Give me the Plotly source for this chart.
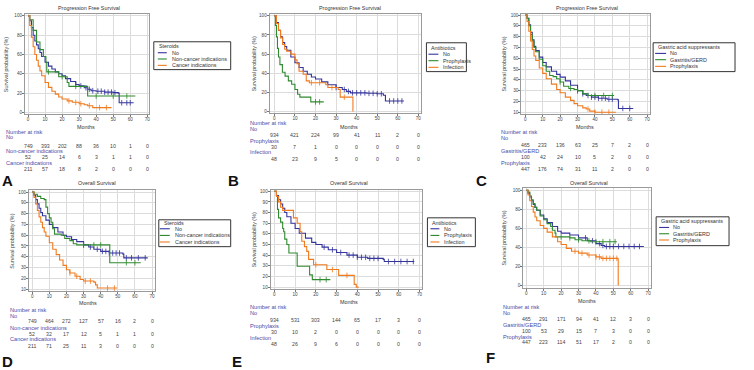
import numpy as np
import plotly.graph_objects as go

W, H = 754, 370

# ------------------------------------------------------------------ data
months_ticks = [0, 10, 20, 30, 40, 50, 60, 70]

# A: PFS by steroids
A_no_t = [0,1,2,3,4,5,6,7,8,10,12,14,16,18,20,22,25,28,30,33,35,37,40,45,50,53,53.5,62]
A_no_s = [100,95,88,80,74,70,66,62,58,52,48,45,42,40,38,35,32,29,27.5,25.5,24,22.5,22,21,20.5,20,10,10]
A_nc_t = [0,1,3,5,7,9,10.5,11,17,18,22,23,24,34,35,63]
A_nc_s = [100,96,85,73,65,58,52,42,42,37,37,31,27,27,17,17]
A_ca_t = [0,1,2,3,4,5,6,7,8,10,12,14,16,18,20,23,26,30,33,35,38,49]
A_ca_s = [100,90,78,68,60,54,48,43,38,31,26,22,19,16,14,12,10.5,9,8,7,5,5]
A_no_cens = [28,31,34,36,38,41,43,45,47,49,51,55,58,60]
A_nc_cens = [12,20,28,40,50,58]
A_ca_cens = [24,28,31,36,42,46]

# B: PFS by antibiotics
B_no_t = [0,1,2,3,4,5,6,8,10,12,14,16,18,20,23,26,30,33,35,37,45,50,53,54,63]
B_no_s = [100,93,85,78,72,68,64,57,51,46,42,39,36,34,31,28,25,23,21,19.5,19,18.5,17,11,11]
B_pr_t = [0,0.5,1,1.5,2,2.7,3.9,5.2,6.8,8.4,10,11.3,12.4,17.7,24]
B_pr_s = [100,90,78,66,57,49,41,37,32,28.5,23,18,15,10,10]
B_in_t = [0,1,2,3,4,5,6,8,10,11,12,14,15.5,17,25,26,31,32,38,38.2]
B_in_s = [100,92,85,77,70,65,63,60,54,50,42,39,32,30,28,25,23,15,15,0]
B_no_cens = [30,34,36,38,40,42,44,46,48,50,52,56,58,60,62]
B_pr_cens = [20,22]
B_in_cens = [18,22,28,34]

# C: PFS by gastric acid suppressants
C_no_t = [0,1,2,3,4,5,6,8,10,12,15,18,20,23,26,30,33,35,38,42,47,53,53.5,62]
C_no_s = [100,97,91,84,77,71,67,61,56,52,48,45,42.5,39,35,30,27,25.5,24,23,22,21.5,13.5,13.5]
C_ga_t = [0,1,2,3,4,5,6,8,10,12,14,16,18,20,22,25,28,30,33,36,51]
C_ga_s = [100,97,90,82,76,70,66,59,53,48,44,43,41,38,34,32,31,30,27,25.5,25.5]
C_pr_t = [0,1,2,3,4,5,6,8,10,12,15,18,20,23,26,28,30,33,35,37,40,52]
C_pr_s = [100,94,85,76,68,62,58,51,46,41,36,31,28,24,21,18,16,14,13,11,10,10]
C_no_cens = [30,33,36,38,40,42,44,46,48,50,56,60]
C_ga_cens = [20,26,30,40,45,50]
C_pr_cens = [36,40,44,48]

# D: OS by steroids
D_no_t = [0,1,2,3,4,5,6,8,10,12,15,18,20,23,26,30,33,36,40,45,53,53.5,67.5]
D_no_s = [100,97,93,89,85,81,78,74,70,67,63,60,58.5,56,54,51,49,47,45,43.5,42.5,39,39]
D_nc_t = [0,1,3,5,7,8,9,10,11,12,13,17,19,22,24,26,45,45.3,63.4]
D_nc_s = [100,98,96,94,93,86,80,76,72,66,61,60,57,55,52,51,51,34.5,34.5]
D_ca_t = [0,1,2,3,4,5,6,7,8,10,12,14,16,18,20,22,25,28,30,36,37,38,49.6]
D_ca_s = [100,95,89,83,77,72,67,63,59,53,47,42,37,32,28,25,22,19,17.5,16.5,14,11,11]
D_no_cens = [30,34,38,41,43,45,47,49,51,55,58,62,66]
D_nc_cens = [30,36,40,55,60]
D_ca_cens = [22,26,31,34,44,48]

# E: OS by antibiotics
E_no_t = [0,1,2,3,4,5,6,8,10,12,15,18,20,23,26,30,35,40,45,52.5,53,67.5]
E_no_s = [100,96,92,88,84,80,76,70,65,60.5,56,52,50,47.5,45,42.5,40,38,37,36,34,34]
E_pr_t = [0,1,1.5,2,3,4,4.5,5,6,7,10.8,11,16.5,17,18.3,27]
E_pr_s = [100,96,83,75,71,65,62,55,50,42,42,29.5,29.5,21.5,17,17]
E_in_t = [0,1,2,3,4,9,9.2,11,12.4,13.2,14.5,15.6,16.5,18.9,25.3,31,38.5,39.5,40.6]
E_in_s = [100,95,90,85,82,82,75,70,62,53,48,43.5,36,31,26.5,21,12.5,10,10]
E_no_cens = [24,28,32,36,38,40,42,44,46,48,50,55,58,61,64,67]
E_pr_cens = [22,25]
E_in_cens = [20,28,35]

# F: OS by gastric acid suppressants
F_no_t = [0,1,2,3,4,5,6,8,10,12,15,18,20,25,30,35,40,43,45,67.5]
F_no_s = [100,97,93,89,85,82,79,74,70,66,62,57,55,53,50,47,44,42,41,41]
F_ga_t = [0,1,2,3,4,5,6,8,10,12,14,15,16.5,17,25,28,32,37,52]
F_ga_s = [100,98,94,90,86,82,79,73,69,65,62,58,55,51,50,48,47,46,46]
F_pr_t = [0,1,2,3,4,5,6,8,10,12,15,18,20,23,26,30,35,40,43,52.5,52.8]
F_pr_s = [100,95,89,83,77,72,68,63,60,56,51,46,43,39,36,34,32,30,28.5,28,0]
F_no_cens = [30,34,38,42,44,46,48,50,53,56,59,62,65]
F_ga_cens = [20,25,30,36,40,44,48,51]
F_pr_cens = [28,32,36,40,42,44,46,48,50,52]

# number at risk
A_risk = {"No": [749,393,202,88,36,10,1,0],
          "Non-cancer indications": [52,25,14,6,3,1,1,0],
          "Cancer indications": [211,57,18,8,2,0,0,0]}
B_risk = {"No": [934,421,224,99,41,11,2,0],
          "Prophylaxis": [30,7,1,0,0,0,0,0],
          "Infection": [48,23,9,5,0,0,0,0]}
C_risk = {"No": [465,233,136,63,25,7,2,0],
          "Gastritis/GERD": [100,42,24,10,5,2,0,0],
          "Prophylaxis": [447,176,74,31,11,2,0,0]}
D_risk = {"No": [749,464,272,127,57,16,2,0],
          "Non-cancer indications": [52,32,17,12,5,1,1,0],
          "Cancer indications": [211,71,25,11,3,0,0,0]}
E_risk = {"No": [934,531,303,144,65,17,3,0],
          "Prophylaxis": [30,10,2,0,0,0,0,0],
          "Infection": [48,26,9,6,0,0,0,0]}
F_risk = {"No": [465,291,171,94,41,12,3,0],
          "Gastritis/GERD": [100,53,29,15,7,3,0,0],
          "Prophylaxis": [447,223,114,51,17,2,0,0]}

# ------------------------------------------------------------------ style
BLUE, GREEN, ORANGE = "#34349c", "#2f8a2f", "#f07a1e"
LBL = "#4a4aa6"
FONT = "Liberation Sans, Arial, sans-serif"
F_TXT = 5.4      # titles, legend, axis titles
F_TICK = 4.6     # tick labels
F_RLBL = 5.6     # risk table group labels
F_RNUM = 5.2     # risk table numbers

panels = [
    dict(letter="A", title="Progression Free Survival", legend_title="Steroids",
         curves=[("No", A_no_t, A_no_s, A_no_cens, BLUE),
                 ("Non-cancer indications", A_nc_t, A_nc_s, A_nc_cens, GREEN),
                 ("Cancer indications", A_ca_t, A_ca_s, A_ca_cens, ORANGE)],
         risk=A_risk, dx=(25, 149), dy=(13, 114), xr=(-1.8, 70.9), yr=(-2, 102), yt=(0, 20),
         title_xy=(89, 7), months_xy=(86, 127), ylab_x=6, rl_x=4,
         rl_y=[132.2, 137.2, 151, 162.7], rn_y=[145.3, 156.7, 169],
         lg_box=(154, 41, 231, 69), lg_ty=45.7, lg_rows=[52, 58.3, 64.7], lg_line=(158, 167), lg_tx=170,
         letter_xy=(8, 180)),
    dict(letter="B", title="Progression Free Survival", legend_title="Antibiotics",
         curves=[("No", B_no_t, B_no_s, B_no_cens, BLUE),
                 ("Prophylaxis", B_pr_t, B_pr_s, B_pr_cens, GREEN),
                 ("Infection", B_in_t, B_in_s, B_in_cens, ORANGE)],
         risk=B_risk, dx=(270, 422), dy=(13, 113), xr=(-2.3, 71.5), yr=(-2, 102), yt=(0, 20),
         title_xy=(350, 7), months_xy=(349, 127), ylab_x=254, rl_x=248,
         rl_y=[122.8, 128.2, 140.7, 152.3], rn_y=[135, 146.7, 159],
         lg_box=(427, 42, 467, 71), lg_ty=47.7, lg_rows=[53.5, 60, 66.7], lg_line=(429, 439), lg_tx=442,
         letter_xy=(234, 180)),
    dict(letter="C", title="Progression Free Survival", legend_title="Gastric acid suppressants",
         curves=[("No", C_no_t, C_no_s, C_no_cens, BLUE),
                 ("Gastritis/GERD", C_ga_t, C_ga_s, C_ga_cens, GREEN),
                 ("Prophylaxis", C_pr_t, C_pr_s, C_pr_cens, ORANGE)],
         risk=C_risk, dx=(522, 651), dy=(13, 114), xr=(-2.3, 71.7), yr=(8, 101), yt=(10, 10),
         title_xy=(588, 7), months_xy=(586, 127), ylab_x=505, rl_x=500,
         rl_y=[132.2, 137.8, 150.7, 162.7], rn_y=[145, 156.7, 169],
         lg_box=(654, 42, 736, 71), lg_ty=46.7, lg_rows=[52.7, 59, 65.7], lg_line=(656, 667), lg_tx=669,
         letter_xy=(482, 180)),
    dict(letter="D", title="Overall Survival", legend_title="Steroids",
         curves=[("No", D_no_t, D_no_s, D_no_cens, BLUE),
                 ("Non-cancer indications", D_nc_t, D_nc_s, D_nc_cens, GREEN),
                 ("Cancer indications", D_ca_t, D_ca_s, D_ca_cens, ORANGE)],
         risk=D_risk, dx=(29, 155), dy=(190, 292), xr=(-1.9, 71.6), yr=(7.9, 101.9), yt=(10, 10),
         title_xy=(97, 183), months_xy=(88, 304), ylab_x=12, rl_x=8,
         rl_y=[310.5, 316.3, 328.3, 340.3], rn_y=[322, 335.3, 346.7],
         lg_box=(159, 220, 231, 247), lg_ty=223.5, lg_rows=[229, 235.7, 242.3], lg_line=(160, 170), lg_tx=173,
         letter_xy=(8, 362)),
    dict(letter="E", title="Overall Survival", legend_title="Antibiotics",
         curves=[("No", E_no_t, E_no_s, E_no_cens, BLUE),
                 ("Prophylaxis", E_pr_t, E_pr_s, E_pr_cens, GREEN),
                 ("Infection", E_in_t, E_in_s, E_in_cens, ORANGE)],
         risk=E_risk, dx=(271, 423), dy=(190, 290), xr=(-1.8, 71.4), yr=(7.8, 101.2), yt=(10, 10),
         title_xy=(349, 183), months_xy=(349, 303), ylab_x=254, rl_x=248,
         rl_y=[307.8, 313.2, 326.7, 339], rn_y=[321, 332.7, 345],
         lg_box=(428, 218, 476, 247), lg_ty=223, lg_rows=[229, 235.7, 242.3], lg_line=(431, 440), lg_tx=443,
         letter_xy=(237, 362)),
    dict(letter="F", title="Overall Survival", legend_title="Gastric acid suppressants",
         curves=[("No", F_no_t, F_no_s, F_no_cens, BLUE),
                 ("Gastritis/GERD", F_ga_t, F_ga_s, F_ga_cens, GREEN),
                 ("Prophylaxis", F_pr_t, F_pr_s, F_pr_cens, ORANGE)],
         risk=F_risk, dx=(524, 652), dy=(188, 289), xr=(-1.7, 71.7), yr=(-3.1, 102.4), yt=(0, 20),
         title_xy=(590, 183), months_xy=(588, 302), ylab_x=505, rl_x=502,
         rl_y=[308, 313.9, 325.7, 337.7], rn_y=[319.7, 331.7, 343.3],
         lg_box=(657, 217, 730, 246), lg_ty=221.5, lg_rows=[227.7, 234, 240.3], lg_line=(660, 670), lg_tx=672,
         letter_xy=(491, 358)),
]


def px(x):
    return x / W


def py(y):
    return 1 - y / H


fig = go.Figure()
annotations = []
shapes = []
layout = {}

for i, p in enumerate(panels):
    n = i + 1
    xa = "x" if n == 1 else f"x{n}"
    ya = "y" if n == 1 else f"y{n}"
    xkey = "xaxis" if n == 1 else f"xaxis{n}"
    ykey = "yaxis" if n == 1 else f"yaxis{n}"

    for name, t, s, cens, col in p["curves"]:
        fig.add_trace(go.Scatter(x=t, y=s, mode="lines", line=dict(color=col, width=1.1, shape="hv"),
                                 xaxis=xa, yaxis=ya, showlegend=False, hoverinfo="skip"))
        ta = np.asarray(t, float)
        sa = np.asarray(s, float)
        idx = np.searchsorted(ta, np.asarray(cens, float), side="right") - 1
        fig.add_trace(go.Scatter(x=cens, y=sa[idx], mode="markers",
                                 marker=dict(symbol="line-ns-open", size=4, color=col,
                                             line=dict(color=col, width=0.8)),
                                 xaxis=xa, yaxis=ya, showlegend=False, hoverinfo="skip"))

    axis_common = dict(showline=True, mirror=True, linecolor="#9a9a9a", linewidth=1,
                       showgrid=True, gridcolor="#dcdcdc", gridwidth=1, zeroline=False,
                       ticks="outside", ticklen=2, tickcolor="#777",
                       tickfont=dict(size=F_TICK, color="#444", family=FONT), fixedrange=True)
    layout[xkey] = dict(domain=[px(p["dx"][0]), px(p["dx"][1])], range=list(p["xr"]),
                        tickvals=months_ticks, anchor=ya, ticklabelstandoff=-2, **axis_common)
    y0, dt = p["yt"]
    layout[ykey] = dict(domain=[py(p["dy"][1]), py(p["dy"][0])], range=list(p["yr"]),
                        tick0=y0, dtick=dt, anchor=xa, ticklabelstandoff=-1, **axis_common)

    # titles / axis labels
    annotations.append(dict(text=p["title"], x=px(p["title_xy"][0]), y=py(p["title_xy"][1]),
                            xref="paper", yref="paper", showarrow=False, xanchor="center", yanchor="middle",
                            font=dict(size=F_TXT, color="#333", family=FONT)))
    annotations.append(dict(text="Months", x=px(p["months_xy"][0]), y=py(p["months_xy"][1]),
                            xref="paper", yref="paper", showarrow=False, xanchor="center", yanchor="middle",
                            font=dict(size=F_TXT, color="#333", family=FONT)))
    annotations.append(dict(text="Survival probability (%)", x=px(p["ylab_x"]),
                            y=py((p["dy"][0] + p["dy"][1]) / 2), textangle=-90,
                            xref="paper", yref="paper", showarrow=False, xanchor="center", yanchor="middle",
                            font=dict(size=F_TXT, color="#444", family=FONT)))
    annotations.append(dict(text="<b>" + p["letter"] + "</b>", x=px(p["letter_xy"][0]), y=py(p["letter_xy"][1]),
                            xref="paper", yref="paper", showarrow=False, xanchor="center", yanchor="middle",
                            font=dict(size=15, color="#111", family=FONT)))

    # number at risk table
    annotations.append(dict(text="Number at risk", x=px(p["rl_x"]), y=py(p["rl_y"][0]),
                            xref="paper", yref="paper", showarrow=False, xanchor="left", yanchor="middle",
                            font=dict(size=F_RLBL, color=LBL, family=FONT)))
    for k, (grp, counts) in enumerate(p["risk"].items()):
        annotations.append(dict(text=grp, x=px(p["rl_x"]), y=py(p["rl_y"][k + 1]),
                                xref="paper", yref="paper", showarrow=False, xanchor="left", yanchor="middle",
                                font=dict(size=F_RLBL, color=LBL, family=FONT)))
        for tm, c in zip(months_ticks, counts):
            annotations.append(dict(text=str(c), x=tm, y=py(p["rn_y"][k]), xref=xa, yref="paper",
                                    showarrow=False, xanchor="center", yanchor="middle",
                                    font=dict(size=F_RNUM, color="#444", family=FONT)))

    # legend box
    bx0, by0, bx1, by1 = p["lg_box"]
    shapes.append(dict(type="rect", xref="paper", yref="paper", x0=px(bx0), x1=px(bx1), y0=py(by1), y1=py(by0),
                       line=dict(color="#333", width=1), fillcolor="white", layer="above"))
    annotations.append(dict(text=p["legend_title"], x=px(bx0 + 3), y=py(p["lg_ty"]),
                            xref="paper", yref="paper", showarrow=False, xanchor="left", yanchor="middle",
                            font=dict(size=F_TXT, color="#333", family=FONT)))
    for k, (name, t, s, cens, col) in enumerate(p["curves"]):
        ry = p["lg_rows"][k]
        shapes.append(dict(type="line", xref="paper", yref="paper", x0=px(p["lg_line"][0]), x1=px(p["lg_line"][1]),
                           y0=py(ry), y1=py(ry), line=dict(color=col, width=1.1)))
        annotations.append(dict(text=name, x=px(p["lg_tx"]), y=py(ry),
                                xref="paper", yref="paper", showarrow=False, xanchor="left", yanchor="middle",
                                font=dict(size=F_TXT, color="#333", family=FONT)))

fig.update_layout(width=W, height=H, margin=dict(l=0, r=0, t=0, b=0), autosize=False,
                  paper_bgcolor="white", plot_bgcolor="white", showlegend=False,
                  annotations=annotations, shapes=shapes, **layout)

fig.write_html("out.html", config={"displayModeBar": False},
               post_script="document.body.style.margin='0';document.body.style.overflow='hidden';")
